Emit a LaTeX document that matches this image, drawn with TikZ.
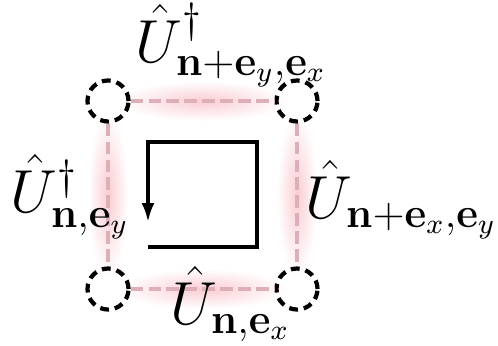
\documentclass[tikz,border=0pt]{standalone}
\usepackage{amsmath}
\usetikzlibrary{arrows.meta, positioning}
\definecolor{linkpink}{HTML}{DDB0B7}
\definecolor{glowred}{HTML}{F5A3AE}

\begin{document}
\begin{tikzpicture}[
    x=0.01cm, y=-0.01cm,
    site/.style={circle, draw=black, line width=1.2pt, dash pattern=on 2.5pt off 1.7pt,
                 minimum size=0.41cm, inner sep=0pt},
    link/.style={draw=linkpink, line width=1.1pt, dash pattern=on 3.6pt off 1.5pt},
    glow/.style={inner color=glowred!55, outer color=white},
    label/.style={font=\fontsize{16.4}{19}\selectfont, inner sep=0pt, anchor=base west},
]
    \useasboundingbox (0,0) rectangle (498,345);
    \fill[white] (0,0) rectangle (498,345);

    % Glow round the links
    \shade[glow] (203,101) ellipse [x radius=86, y radius=20];
    \shade[glow] (203,289) ellipse [x radius=86, y radius=20];
    \shade[glow] (108,195) ellipse [x radius=20, y radius=84];
    \shade[glow] (297,195) ellipse [x radius=20, y radius=84];

    % Lattice sites
    \node[site] (nw) at (108,101) {};
    \node[site] (ne) at (297,101) {};
    \node[site] (sw) at (108,289) {};
    \node[site] (se) at (297,289) {};

    % Links
    \draw[link] (nw) -- (ne);
    \draw[link] (sw) -- (se);
    \draw[link] (nw) -- (sw);
    \draw[link] (ne) -- (se);

    % Plaquette loop
    \coordinate (start) at (148,247);
    \coordinate (stop) at (148,222);
    \draw[line width=0.95pt, -{Latex[length=0.19cm, width=0.13cm]}]
        (start) -- (257,247) -- (257,142) -- (148,142) -- (stop);

    % Link operators
    \node[label] (utop) at (135,62) {$\hat{U}^{\dagger}_{\mathbf{n}+\mathbf{e}_y,\mathbf{e}_x}$};
    \node[label] (uleft) at (10,212) {$\hat{U}^{\dagger}_{\mathbf{n},\mathbf{e}_y}$};
    \node[label] (uright) at (305,218) {$\hat{U}_{\mathbf{n}+\mathbf{e}_x,\mathbf{e}_y}$};
    \node[label] (ubottom) at (170,324) {$\hat{U}_{\mathbf{n},\mathbf{e}_x}$};
\end{tikzpicture}
\end{document}
